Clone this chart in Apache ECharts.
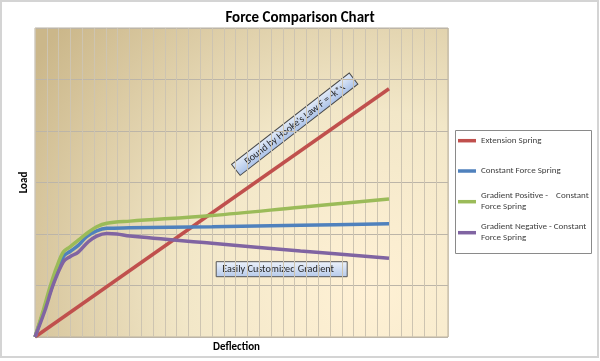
<!DOCTYPE html>
<html>
<head>
<meta charset="utf-8">
<script src="https://cdn.jsdelivr.net/npm/echarts@6/dist/echarts.min.js"></script>
<style>html,body{margin:0;padding:0;background:#fff;}#c{width:600px;height:361px;}</style>
</head>
<body>
<div id="c"></div>
<script>
// ---- Data ----
const titleText = 'Force Comparison Chart';
const xName = 'Deflection';
const yName = 'Load';
const seriesNames = ['Extension Spring', 'Constant Force Spring', 'Gradient Positive - Constant Force Spring', 'Gradient Negative - Constant Force Spring'];
const legendLabels = ['Extension Spring', 'Constant Force Spring', 'Gradient Positive -    Constant\nForce Spring', 'Gradient Negative - Constant\nForce Spring'];
const extensionSpring = [[0, 0], [30, 48.2]];
const constantForce = [[0, 0], [1.27, 8.6], [2.4, 15.6], [2.97, 16.6], [3.67, 17.8], [4.38, 19.5], [5.23, 20.6], [6.08, 21.1], [8, 21.2], [15, 21.4], [22.5, 21.7], [30, 22.0]];
const gradientPositive = [[0, 0], [0.7, 5.2], [1.27, 9.7], [1.84, 13.6], [2.4, 16.5], [2.97, 17.5], [3.67, 18.8], [4.38, 20.1], [5.23, 21.4], [6.08, 22.1], [8.06, 22.5], [15, 23.6], [22.5, 25.2], [30, 26.8]];
const gradientNegative = [[0, 0], [0.85, 5.2], [1.55, 10.2], [2.4, 14.6], [2.97, 15.6], [3.67, 16.5], [4.52, 18.5], [5.23, 19.6], [6.08, 20.1], [6.93, 20.0], [8.06, 19.6], [15, 18.2], [22.5, 16.7], [30, 15.3]];
const annotationHooke = "Bound by Hooke's Law F = -k*x";
const annotationGradient = 'Easily Customized Gradient';

// ---- Chart ----
const colors = ['#c0504d', '#4f81bd', '#9bbb59', '#8064a2'];
const seriesData = [extensionSpring, constantForce, gradientPositive, gradientNegative];
const font = 'Carlito, Lato, sans-serif';

const chart = echarts.init(document.getElementById('c'), null, {renderer: 'canvas'});

const legendTops = [135.2, 165.5, 185.2, 216.2];
const legends = seriesNames.map((n, i) => ({
  data: [{name: n, textStyle: i >= 2 ? {padding: [11, 0, 0, 0]} : {}}],
  orient: 'vertical',
  left: 458,
  top: legendTops[i],
  padding: 0,
  icon: 'rect',
  itemWidth: 18,
  itemHeight: 3.5,
  selectedMode: false,
  formatter: () => legendLabels[i],
  textStyle: {fontFamily: font, fontSize: 9, color: '#404040', lineHeight: 11}
}));

const option = {
  animation: false,
  title: {
    text: titleText, left: 'center', top: 6,
    textStyle: {fontFamily: font, fontSize: 15, fontWeight: 'bold', color: '#000'}
  },
  legend: legends,
  grid: {
    left: 35, top: 28, width: 413, height: 309,
    show: true,
    borderColor: '#b9b1a1', borderWidth: 1,
    backgroundColor: {
      type: 'radial', x: 0.8, y: 0.85, r: 1.3,
      colorStops: [
        {offset: 0, color: '#fff1d5'},
        {offset: 0.45, color: '#f2e7c8'},
        {offset: 1, color: '#cbb78a'}
      ]
    }
  },
  xAxis: {
    type: 'value', min: 0, max: 35, interval: 1,
    name: xName, nameLocation: 'middle', nameGap: 5,
    nameTextStyle: {fontFamily: font, fontSize: 11, fontWeight: 'bold', color: '#000', padding: [0, 10, 0, 0]},
    axisLine: {show: false}, axisTick: {show: false}, axisLabel: {show: false},
    splitLine: {show: true, lineStyle: {color: '#cdc4b1', width: 1}}
  },
  yAxis: {
    type: 'value', min: 0, max: 60, interval: 10,
    name: yName, nameLocation: 'middle', nameGap: 5,
    nameTextStyle: {fontFamily: font, fontSize: 11, fontWeight: 'bold', color: '#000'},
    axisLine: {show: false}, axisTick: {show: false}, axisLabel: {show: false},
    splitLine: {show: true, lineStyle: {color: '#bcb5a8', width: 1}}
  },
  series: seriesNames.map((n, i) => ({
    name: n, type: 'line', data: seriesData[i],
    smooth: 0.35, symbol: 'none',
    lineStyle: {color: colors[i], width: 3.5},
    itemStyle: {color: colors[i]}
  })),
  graphic: [
    {
      type: 'rect', shape: {x: 1, y: 1, width: 597, height: 356},
      style: {fill: 'none', stroke: '#d4d4d4', lineWidth: 2}, silent: true
    },
    {
      type: 'rect', shape: {x: 455.5, y: 130.5, width: 136, height: 123},
      style: {fill: 'none', stroke: '#8a8a8a', lineWidth: 1}, silent: true
    },
    {
      type: 'group', x: 294.7, y: 124.2, rotation: 37.8 * Math.PI / 180, z: 100,
      children: [
        {
          type: 'rect', shape: {x: -74.5, y: -7, width: 149, height: 14},
          style: {
            fill: {type: 'linear', x: 0, y: 0, x2: 0, y2: 1, colorStops: [{offset: 0, color: '#e4ecf8'}, {offset: 1, color: '#a9c1e8'}]},
            stroke: '#4a4a4a', lineWidth: 1
          }
        },
        {
          type: 'text', x: 0, y: 0.5,
          style: {text: annotationHooke, font: '10px ' + font, fill: '#262626', align: 'center', verticalAlign: 'middle'}
        }
      ]
    },
    {
      type: 'group', x: 215.7, y: 261.2, z: 100,
      children: [
        {
          type: 'rect', shape: {x: 0.5, y: 0.5, width: 131, height: 15},
          style: {
            fill: {type: 'linear', x: 0, y: 0, x2: 0, y2: 1, colorStops: [{offset: 0, color: '#eef3fb'}, {offset: 1, color: '#b5c9ea'}]},
            stroke: '#555', lineWidth: 1
          }
        },
        {
          type: 'text', x: 6.5, y: 8.5,
          style: {text: annotationGradient, font: '10.2px ' + font, fill: '#262626', align: 'left', verticalAlign: 'middle'}
        }
      ]
    }
  ]
};
chart.setOption(option);
</script>
</body>
</html>
